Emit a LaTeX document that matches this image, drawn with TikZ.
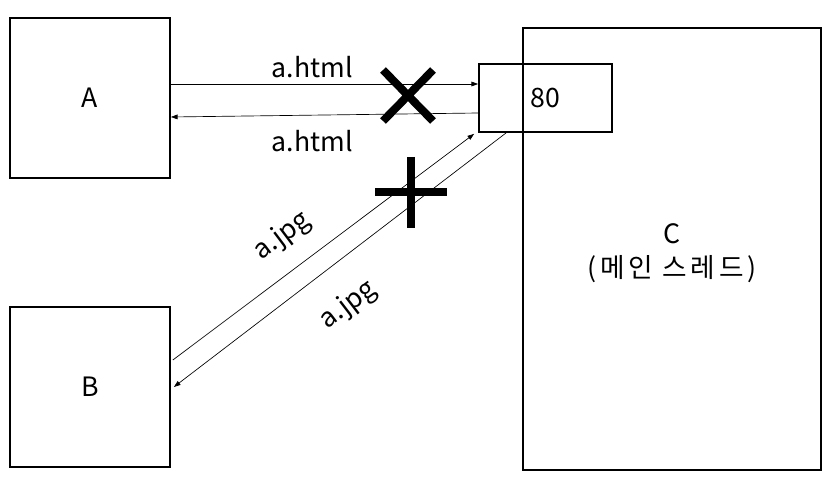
\documentclass[tikz,border=0pt]{standalone}
\usepackage{fontspec}
\setmainfont{Noto Sans CJK KR}
\usepackage{tikz}
\usetikzlibrary{arrows.meta, calc}

\begin{document}
\begin{tikzpicture}[x=0.75pt, y=-0.75pt, >={Triangle[length=5pt,width=3.5pt]},
    font=\fontsize{20}{26}\selectfont,
    box/.style={draw, line width=1.3pt, align=center},
    msg/.style={->, line width=0.5pt},
    blockmark/.style={line width=6pt}]
    \useasboundingbox (0,0) rectangle (837,477);
    \node[box, minimum width=120pt, minimum height=120pt] (A) at (90,98) {A};
    \node[box, minimum width=120pt, minimum height=120pt] (B) at (90,387) {B};
    \node[box, minimum width=223.5pt, minimum height=331.5pt] (C) at (672,249) {};
    \node[align=center] (Clabel) at (672,253) {C\\{\addfontfeature{LetterSpace=14}(메인 스레드)}};
    \node[box, minimum width=99.75pt, minimum height=51pt] (port) at (545.5,98) {80};
    \draw[msg] ($(A.east)+(0,-14)$) -- node[above=1pt, pos=0.46] {a.html} ($(port.west)+(0,-14)$);
    \draw[msg] ($(port.west)+(0,15)$) -- node[below=8pt, pos=0.54] {a.html} ($(A.east)+(0,19)$);
    \draw[msg] ($(B.east)+(2,-27)$) -- node[sloped, above=11pt, pos=0.43] {a.jpg} ($(port.south west)+(-4,1)$);
    \draw[msg] ($(port.south west)+(28,0)$) -- node[sloped, below=17pt, pos=0.55] {a.jpg} ($(B.east)+(3,0)$);
    \draw[blockmark] (383,70) -- (433,121) (433,70) -- (383,121);
    \draw[blockmark] (375,192) -- (447,192) (411,157) -- (411,228);
\end{tikzpicture}
\end{document}
